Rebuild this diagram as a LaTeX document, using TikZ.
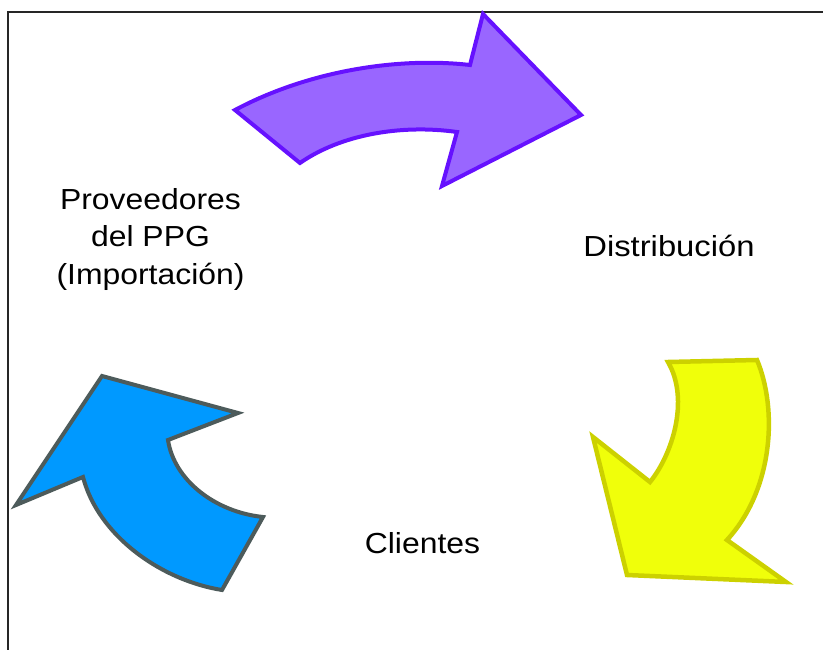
\documentclass[tikz,border=0pt]{standalone}
\usepackage{fontspec}
\setmainfont{Liberation Sans}
\usepackage{graphicx}
\definecolor{purfill}{RGB}{153,102,255}
\definecolor{purline}{RGB}{102,17,255}
\definecolor{yelfill}{RGB}{240,255,10}
\definecolor{yelline}{RGB}{204,209,0}
\definecolor{blufill}{RGB}{0,153,255}
\definecolor{bluline}{RGB}{77,91,91}
\newcommand{\widetext}[1]{\scalebox{1.1}[1]{#1}}
\begin{document}
\begin{tikzpicture}[x=1pt,y=-1pt,
  lbl/.style={font=\fontsize{29}{37.5}\selectfont, inner sep=0pt, align=center},
  arrowshape/.style={line width=4pt, line join=miter, miter limit=10}]
\useasboundingbox (0,0) rectangle (823,650);
% frame
\coordinate (fbl) at (8,652);
\coordinate (ftl) at (8,12);
\coordinate (ftr) at (825,12);
\draw[line width=1.6pt, black!85] (fbl) -- (ftl) -- (ftr);
% purple arrow
\draw[arrowshape, draw=purline, fill=purfill]
  (235,110) .. controls (310,70) and (400,57) .. (470,65)
  -- (483,14) -- (581,115) -- (442,186) -- (457,132)
  .. controls (400,124) and (340,135) .. (300,163) -- cycle;
% yellow arrow
\draw[arrowshape, line width=4.5pt, draw=yelline, fill=yelfill]
  (668,362) -- (757,360)
  .. controls (778,410) and (773,490) .. (727,540)
  -- (786,582) -- (627,575) -- (593,437) -- (650,482)
  .. controls (672,455) and (690,400) .. (668,362) -- cycle;
% blue arrow
\draw[arrowshape, draw=bluline, fill=blufill]
  (102,376) -- (238,413) -- (168,440)
  .. controls (174,480) and (215,512) .. (263,517)
  -- (222,590)
  .. controls (160,580) and (98,535) .. (83,477)
  -- (16,505) -- cycle;
% labels
\node[lbl, anchor=base] (prov) at (150.5,284) {\widetext{Proveedores}\\\widetext{del PPG}\\\widetext{(Importación)}};
\node[lbl, anchor=base] (dist) at (669,257) {\scalebox{1.13}[1]{Distribución}};
\node[lbl, anchor=base] (cli) at (422.5,553) {\widetext{Clientes}};
\end{tikzpicture}
\end{document}
